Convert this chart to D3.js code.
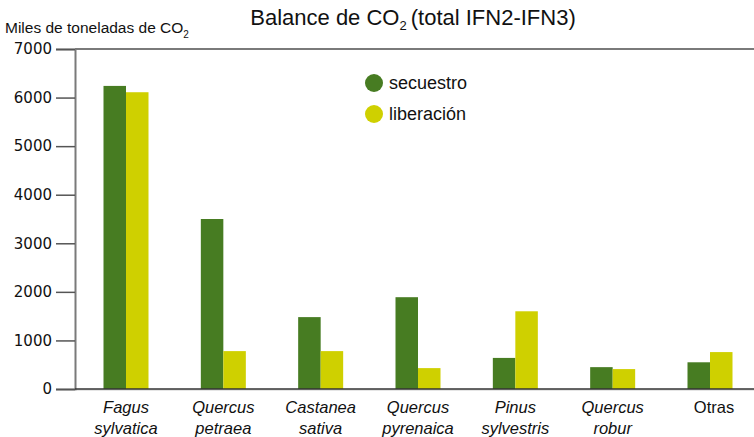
<!DOCTYPE html>
<html><head><meta charset="utf-8">
<script src="https://cdn.jsdelivr.net/npm/d3@7"></script>
<style>body{margin:0;background:#fff}svg{display:block}text{font-family:"Liberation Sans",Arial,sans-serif;fill:#111}.tick text{font-family:"DejaVu Sans",sans-serif;font-size:15px}</style>
</head><body><svg id="c" width="754" height="437"></svg>
<script>
const categories = [["Fagus","sylvatica"],["Quercus","petraea"],["Castanea","sativa"],["Quercus","pyrenaica"],["Pinus","sylvestris"],["Quercus","robur"],["Otras"]];
const italic = [true,true,true,true,true,true,false];
const secuestro = [6240,3500,1480,1890,640,450,550];
const liberacion = [6110,780,780,430,1600,410,760];
const yTicks = [0,1000,2000,3000,4000,5000,6000,7000];
const seriesNames = ["secuestro","liberación"];
const colors = ["#477C22","#CFD000"];

const svg = d3.select("#c");
const y = d3.scaleLinear().domain([0,7000]).range([389,49]);
const x = d3.scalePoint().domain(d3.range(categories.length)).range([126,710]);
const bw = 22.5;

// top line
svg.append("line").attr("x1",75).attr("x2",754).attr("y1",y(7000)).attr("y2",y(7000)).attr("stroke","#7a7a7a").attr("stroke-width",2);
// y axis
const ya = svg.append("g").attr("transform","translate(75,0)")
  .call(d3.axisLeft(y).tickValues(yTicks).tickSize(19).tickPadding(4).tickFormat(d3.format("d")));
ya.attr("font-size",null).attr("font-family",null);
ya.select(".domain").attr("stroke","#7a7a7a").attr("stroke-width",2);
ya.selectAll(".tick line").attr("stroke","#555").attr("stroke-width",1.5);

// bars
const data = [secuestro, liberacion];
data.forEach((vals,si)=>{
  svg.append("g").selectAll("rect").data(vals).join("rect")
    .attr("x",(d,i)=>x(i) - bw + si*bw)
    .attr("width",bw)
    .attr("y",d=>y(d))
    .attr("height",d=>y(0)-y(d))
    .attr("fill",colors[si]);
});
// bottom axis
svg.append("line").attr("x1",75).attr("x2",754).attr("y1",390).attr("y2",390).attr("stroke","#cccccc").attr("stroke-width",1);
svg.append("line").attr("x1",75).attr("x2",754).attr("y1",389).attr("y2",389).attr("stroke","#333").attr("stroke-width",1.5);

// category labels
categories.forEach((lines,i)=>{
  const t = svg.append("text").attr("text-anchor","middle").attr("font-size",16.5)
    .attr("font-style",italic[i]?"italic":"normal");
  lines.forEach((l,j)=>{
    t.append("tspan").attr("x",x(i)+(i===6?4:0)).attr("y",413+j*21).text(l);
  });
});

// legend
seriesNames.forEach((n,i)=>{
  const ly = 83 + i*31;
  svg.append("circle").attr("cx",374).attr("cy",ly).attr("r",9).attr("fill",colors[i]);
  svg.append("text").attr("x",389).attr("y",ly+6).attr("font-size",18).text(n);
});

// title
const tt = svg.append("text").attr("x",413).attr("y",25).attr("text-anchor","middle").attr("font-size",22);
tt.append("tspan").text("Balance de CO");
tt.append("tspan").attr("font-size",13).attr("dy",5).text("2");
tt.append("tspan").attr("dy",-5).attr("dx",4).text("(total IFN2-IFN3)");

// y label
const yl = svg.append("text").attr("x",5).attr("y",33).attr("font-size",15.5);
yl.append("tspan").text("Miles de toneladas de CO");
yl.append("tspan").attr("font-size",10).attr("dy",5).text("2");
</script></body></html>
